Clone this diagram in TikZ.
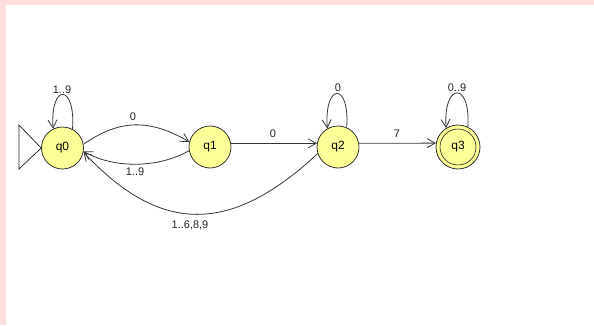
\documentclass[tikz,border=0pt]{standalone}
\usepackage{fontspec}
\setmainfont{Liberation Sans}
\usetikzlibrary{arrows.meta}
\definecolor{pinkbd}{RGB}{255,221,221}
\definecolor{stfill}{RGB}{255,255,153}
\definecolor{edgec}{RGB}{55,55,55}
\begin{document}
\begin{tikzpicture}[x=1pt,y=1pt,
  state/.style={circle,draw=black!85,line width=0.75pt,fill=stfill,minimum size=42pt,inner sep=0pt,font=\fontsize{12}{12}\selectfont},
  edge/.style={draw=edgec,line width=0.8pt,-{Straight Barb[length=8pt,width=9pt]}},
  lbl/.style={font=\fontsize{11}{11}\selectfont,inner sep=0pt,text=black!85}]
\useasboundingbox (0,0) rectangle (594,325);
\fill[pinkbd] (0,320.3) rectangle (594,325);
\fill[pinkbd] (0,0) rectangle (5.7,325);

\node[state] (q0) at (62.5,177) {q0};
\node[state] (q1) at (210,178) {q1};
\node[state] (q2) at (338,178) {q2};
\node[state,minimum size=44pt] (q3) at (458,178) {};
\draw[black!85,line width=0.6pt] (q3.center) circle (18pt);
\node[font=\fontsize{12}{12}\selectfont] (q3t) at (q3.center) {q3};

% start triangle
\coordinate (s1) at (19,200);
\coordinate (s2) at (19,156);
\draw[black!85,line width=0.75pt] (s1) -- (q0.west) -- (s2) -- cycle;

% self loops
\draw[edge] (q0.62) .. controls +(86:46pt) and +(94:46pt) .. (q0.116);
\draw[edge] (q2.66) .. controls +(86:46pt) and +(94:46pt) .. (q2.120);
\draw[edge] (q3.64) .. controls +(86:46pt) and +(94:46pt) .. (q3.122);
\node[lbl] (l00) at (62,235) {1..9};
\node[lbl] (l22) at (338,237.5) {0};
\node[lbl] (l33) at (457,237.5) {0..9};

% q0 -> q1
\draw[edge] (q0.10) .. controls +(35:45pt) and +(150:45pt) .. (q1.166);
\node[lbl] (l01) at (133,208.5) {0};
% q1 -> q0
\draw[edge] (q1.190) .. controls +(210:35pt) and +(-30:35pt) .. (q0.351);
\node[lbl] (l10) at (135,153.5) {1..9};
% q1 -> q2
\draw[edge] (q1.10) -- (q2.170);
\node[lbl] (l12) at (273,191) {0};
% q2 -> q3
\draw[edge] (q2.10) -- (q3.170);
\node[lbl] (l23) at (397,191) {7};
% q2 -> q0
\draw[edge] (q2.198) .. controls +(223:120pt) and +(-47:112pt) .. (q0.349);
\node[lbl] (l20) at (190,100) {1..6,8,9};
\end{tikzpicture}
\end{document}
